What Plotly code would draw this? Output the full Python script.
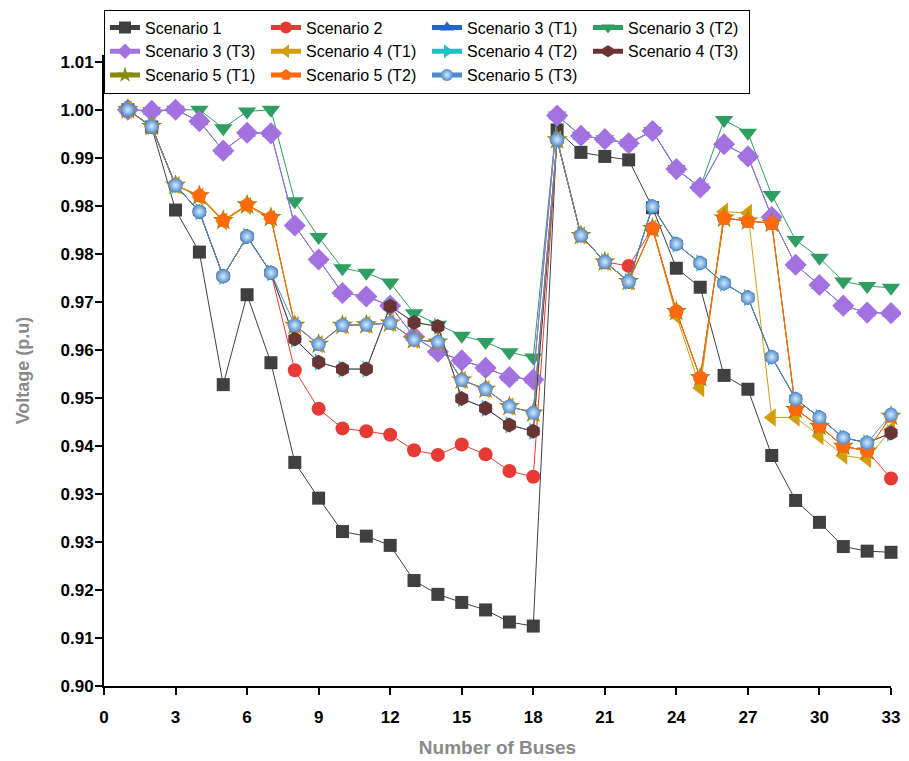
import plotly.graph_objects as go

buses = list(range(1, 34))

scenario_1 = [1.0000, 0.9970, 0.9826, 0.9753, 0.9523, 0.9679, 0.9561, 0.9388, 0.9326, 0.9268, 0.9260,
              0.9244, 0.9183, 0.9159, 0.9145, 0.9132, 0.9111, 0.9104, 0.9965, 0.9926, 0.9919, 0.9913,
              0.9830, 0.9725, 0.9692, 0.9539, 0.9515, 0.9400, 0.9322, 0.9284, 0.9242, 0.9234, 0.9232]
scenario_2 = [1.0000, 0.9970, 0.9869, 0.9823, 0.9711, 0.9780, 0.9717, 0.9548, 0.9481, 0.9447, 0.9442,
              0.9436, 0.9409, 0.9401, 0.9419, 0.9402, 0.9373, 0.9363, 0.9948, 0.9782, 0.9736, 0.9729,
              0.9794, 0.9650, 0.9535, 0.9812, 0.9807, 0.9803, 0.9480, 0.9451, 0.9416, 0.9408, 0.9360]
scenario_3_t1 = [1.0000, 0.9998, 1.0000, 0.9980, 0.9929, 0.9960, 0.9959, 0.9799, 0.9740, 0.9682, 0.9676,
                 0.9660, 0.9606, 0.9580, 0.9565, 0.9552, 0.9536, 0.9532, 0.9990, 0.9955, 0.9949, 0.9942,
                 0.9963, 0.9897, 0.9865, 0.9940, 0.9919, 0.9814, 0.9731, 0.9696, 0.9660, 0.9648, 0.9647]
scenario_3_t2 = [1.0000, 0.9998, 1.0000, 1.0000, 0.9968, 0.9997, 1.0000, 0.9841, 0.9779, 0.9725, 0.9717,
                 0.9700, 0.9647, 0.9627, 0.9608, 0.9597, 0.9579, 0.9570, 0.9990, 0.9955, 0.9949, 0.9942,
                 0.9963, 0.9897, 0.9865, 0.9982, 0.9960, 0.9852, 0.9774, 0.9743, 0.9702, 0.9694, 0.9691]
scenario_3_t3 = [1.0000, 0.9998, 1.0000, 0.9980, 0.9929, 0.9960, 0.9959, 0.9799, 0.9740, 0.9682, 0.9676,
                 0.9660, 0.9606, 0.9580, 0.9565, 0.9552, 0.9536, 0.9532, 0.9990, 0.9955, 0.9949, 0.9942,
                 0.9963, 0.9897, 0.9865, 0.9940, 0.9919, 0.9814, 0.9731, 0.9696, 0.9660, 0.9648, 0.9647]
scenario_4_t1 = [1.0000, 0.9971, 0.9869, 0.9849, 0.9806, 0.9833, 0.9811, 0.9626, 0.9593, 0.9626, 0.9627,
                 0.9630, 0.9601, 0.9597, 0.9531, 0.9515, 0.9485, 0.9474, 0.9948, 0.9782, 0.9736, 0.9702,
                 0.9794, 0.9643, 0.9517, 0.9823, 0.9821, 0.9466, 0.9466, 0.9434, 0.9400, 0.9394, 0.9445]
scenario_4_t2 = [1.0000, 0.9971, 0.9869, 0.9823, 0.9711, 0.9780, 0.9717, 0.9602, 0.9562, 0.9550, 0.9550,
                 0.9659, 0.9631, 0.9624, 0.9499, 0.9482, 0.9453, 0.9442, 0.9948, 0.9782, 0.9736, 0.9702,
                 0.9832, 0.9767, 0.9734, 0.9699, 0.9674, 0.9571, 0.9498, 0.9466, 0.9431, 0.9422, 0.9439]
scenario_4_t3 = [1.0000, 0.9971, 0.9869, 0.9823, 0.9711, 0.9780, 0.9717, 0.9602, 0.9562, 0.9550, 0.9550,
                 0.9659, 0.9631, 0.9624, 0.9499, 0.9482, 0.9453, 0.9442, 0.9948, 0.9782, 0.9736, 0.9702,
                 0.9832, 0.9767, 0.9734, 0.9699, 0.9674, 0.9571, 0.9498, 0.9466, 0.9431, 0.9422, 0.9439]
scenario_5_t1 = [1.0000, 0.9971, 0.9869, 0.9851, 0.9808, 0.9835, 0.9813, 0.9626, 0.9593, 0.9626, 0.9627,
                 0.9630, 0.9601, 0.9597, 0.9531, 0.9515, 0.9485, 0.9474, 0.9948, 0.9782, 0.9736, 0.9702,
                 0.9794, 0.9650, 0.9535, 0.9812, 0.9807, 0.9803, 0.9480, 0.9451, 0.9416, 0.9408, 0.9468]
scenario_5_t2 = [1.0000, 0.9971, 0.9869, 0.9851, 0.9808, 0.9835, 0.9813, 0.9626, 0.9593, 0.9626, 0.9627,
                 0.9630, 0.9601, 0.9597, 0.9531, 0.9515, 0.9485, 0.9474, 0.9948, 0.9782, 0.9736, 0.9702,
                 0.9794, 0.9650, 0.9535, 0.9812, 0.9807, 0.9803, 0.9480, 0.9451, 0.9416, 0.9408, 0.9468]
scenario_5_t3 = [1.0000, 0.9971, 0.9869, 0.9823, 0.9711, 0.9780, 0.9717, 0.9626, 0.9593, 0.9626, 0.9627,
                 0.9630, 0.9601, 0.9597, 0.9531, 0.9515, 0.9485, 0.9474, 0.9948, 0.9782, 0.9736, 0.9702,
                 0.9832, 0.9767, 0.9734, 0.9699, 0.9674, 0.9571, 0.9498, 0.9466, 0.9431, 0.9422, 0.9471]

series_names = ["Scenario 1", "Scenario 2", "Scenario 3 (T1)", "Scenario 3 (T2)", "Scenario 3 (T3)",
                "Scenario 4 (T1)", "Scenario 4 (T2)", "Scenario 4 (T3)", "Scenario 5 (T1)",
                "Scenario 5 (T2)", "Scenario 5 (T3)"]
series_values = [scenario_1, scenario_2, scenario_3_t1, scenario_3_t2, scenario_3_t3, scenario_4_t1,
                 scenario_4_t2, scenario_4_t3, scenario_5_t1, scenario_5_t2, scenario_5_t3]

x_ticks = list(range(0, 34, 3))
y_tick_labels = ["0.90", "0.91", "0.92", "0.93", "0.93", "0.94", "0.95", "0.96", "0.97",
                 "0.98", "0.98", "0.99", "1.00", "1.01"]

styles = [
    dict(color="#404040", symbol="square", size=13),
    dict(color="#e83a35", symbol="circle", size=14),
    dict(color="#2563c9", symbol="triangle-up", size=15),
    dict(color="#2e9e62", symbol="triangle-down", size=16),
    dict(color="#a472e0", symbol="diamond", size=17),
    dict(color="#d49d0c", symbol="triangle-left", size=16),
    dict(color="#1fc0c6", symbol="triangle-right", size=15),
    dict(color="#6b3434", symbol="hexagon", size=15),
    dict(color="#8a8a12", symbol="star", size=16),
    dict(color="#ff6a0a", symbol="pentagon", size=16),
    dict(color="#4f8ccc", symbol="circle", size=14),
]

fig = go.Figure()
for i, (name, vals, st) in enumerate(zip(series_names, series_values, styles)):
    marker = dict(color=st["color"], symbol=st["symbol"], size=st["size"],
                  line=dict(width=0))
    if i == len(series_names) - 1:
        marker["gradient"] = dict(type="radial", color="#d6ebff")
    fig.add_trace(go.Scatter(
        x=buses, y=vals, name=name, mode="lines+markers",
        line=dict(color=st["color"], width=1),
        marker=marker, cliponaxis=False,
    ))

tick_vals = [0.9 + k / 120 for k in range(len(y_tick_labels))]

# the page body adds an 8px offset, so the figure is 16px smaller than the window
fig.update_layout(
    width=901, height=753,
    margin=dict(l=96, r=18, t=47, b=75, autoexpand=False),
    paper_bgcolor="white", plot_bgcolor="white",
    font=dict(family="Liberation Sans, Arial, sans-serif", color="black"),
    showlegend=True,
    legend=dict(
        orientation="h", x=0.0, xanchor="left", y=0.998, yref="container", yanchor="top",
        bgcolor="white", bordercolor="black", borderwidth=1,
        font=dict(size=16, color="black"),
        traceorder="normal", itemsizing="constant",
        entrywidth=116, entrywidthmode="pixels",
    ),
)

fig.update_xaxes(
    range=[0, 33], tickvals=x_ticks, ticks="outside", ticklen=7, tickwidth=2,
    tickcolor="black", showline=True, linecolor="black", linewidth=2, showgrid=False,
    zeroline=False, ticklabelstandoff=8,
    tickfont=dict(size=17, color="black", family="Liberation Sans, Arial", weight="bold"),
    title=dict(text="<b>Number of Buses</b>", font=dict(size=19, color="#8a8a8a"), standoff=14),
    automargin=False,
)
fig.update_yaxes(
    range=[0.9, 1.0095], tickvals=tick_vals, ticktext=y_tick_labels, ticks="outside", ticklen=7,
    tickwidth=2, tickcolor="black", showline=True, linecolor="black", linewidth=2, showgrid=False,
    zeroline=False, ticklabelstandoff=-2,
    tickfont=dict(size=17, color="black", family="Liberation Sans, Arial", weight="bold"),
    title=dict(text="<b>Voltage (p.u)</b>", font=dict(size=18, color="#8a8a8a"), standoff=26),
    automargin=False,
)

fig.write_html("out.html")
